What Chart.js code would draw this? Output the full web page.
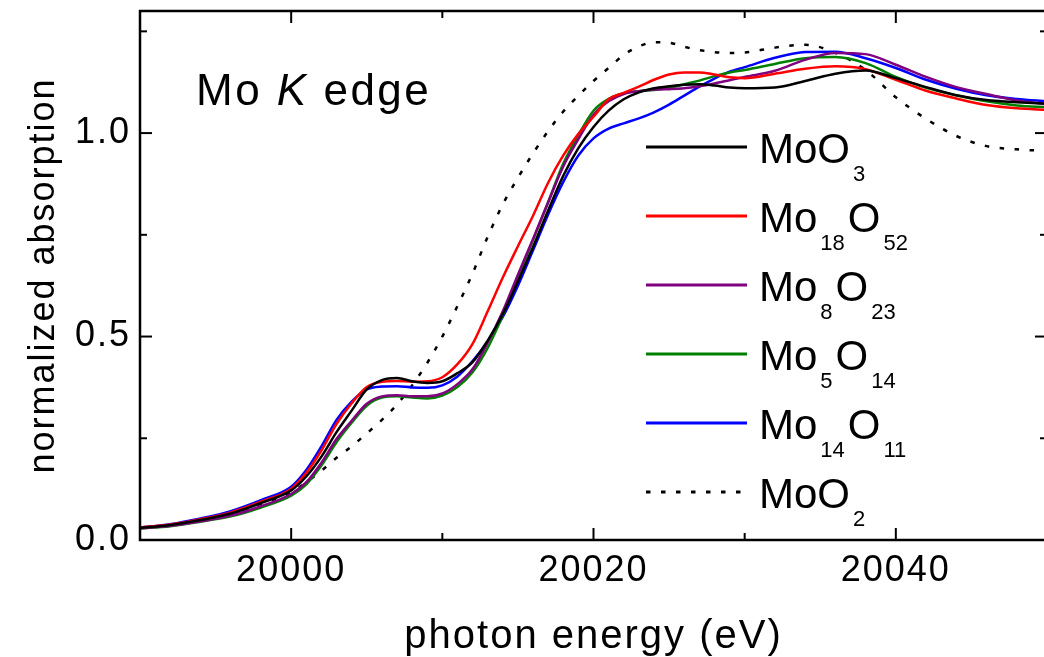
<!DOCTYPE html>
<html>
<head>
<meta charset="utf-8">
<title>Mo K edge XANES</title>
<script src="https://cdn.jsdelivr.net/npm/chart.js@4.4.0/dist/chart.umd.min.js"></script>
<style>
    html, body { margin: 0; padding: 0; background: #fff; overflow: hidden; }
    #wrap { width: 1050px; height: 657px; }
</style>
</head>
<body>
<div id="wrap"><canvas id="xanesChart" width="1050" height="657"></canvas></div>
<script>
// Photon energy grid (eV)
const energy = [
    19990, 19992, 19994, 19996, 19998,
    20000, 20001, 20002, 20003, 20004, 20005, 20006, 20007, 20008, 20009,
    20010, 20011, 20012, 20013, 20014, 20015, 20016, 20017, 20018, 20019,
    20020, 20021, 20022, 20023, 20024, 20025, 20026, 20027, 20028, 20029,
    20030, 20032, 20034, 20036, 20038, 20040, 20042, 20044, 20046, 20048, 20050
];

// Normalized absorption
const moo3 = [
    0.030, 0.037, 0.049, 0.065, 0.091,
    0.122, 0.156, 0.205, 0.265, 0.318, 0.370, 0.393, 0.398, 0.390, 0.386,
    0.390, 0.410, 0.437, 0.490, 0.555, 0.635, 0.720, 0.810, 0.895, 0.963,
    1.015, 1.055, 1.083, 1.100, 1.110, 1.115, 1.119, 1.120, 1.117, 1.112,
    1.110, 1.112, 1.128, 1.146, 1.154, 1.135, 1.113, 1.093, 1.081, 1.076, 1.072
];
const mo18o52 = [
    0.031, 0.038, 0.051, 0.068, 0.094,
    0.126, 0.165, 0.220, 0.285, 0.336, 0.376, 0.389, 0.391, 0.389, 0.390,
    0.400, 0.432, 0.482, 0.562, 0.645, 0.722, 0.797, 0.878, 0.945, 0.998,
    1.040, 1.083, 1.099, 1.114, 1.131, 1.144, 1.149, 1.149, 1.144, 1.137,
    1.135, 1.146, 1.158, 1.164, 1.157, 1.131, 1.104, 1.085, 1.069, 1.061, 1.057
];
const mo8o23 = [
    0.029, 0.035, 0.046, 0.060, 0.083,
    0.113, 0.142, 0.190, 0.248, 0.293, 0.335, 0.353, 0.356, 0.353, 0.353,
    0.360, 0.383, 0.420, 0.485, 0.562, 0.652, 0.740, 0.830, 0.918, 0.985,
    1.045, 1.078, 1.096, 1.103, 1.107, 1.108, 1.110, 1.115, 1.122, 1.130,
    1.138, 1.153, 1.180, 1.197, 1.194, 1.168, 1.138, 1.113, 1.096, 1.080, 1.071
];
const mo5o14 = [
    0.028, 0.034, 0.045, 0.058, 0.080,
    0.109, 0.137, 0.183, 0.240, 0.288, 0.330, 0.350, 0.353, 0.350, 0.348,
    0.355, 0.376, 0.412, 0.472, 0.552, 0.645, 0.737, 0.830, 0.925, 0.995,
    1.055, 1.084, 1.098, 1.103, 1.106, 1.111, 1.120, 1.129, 1.140, 1.149,
    1.155, 1.170, 1.184, 1.187, 1.172, 1.138, 1.111, 1.093, 1.078, 1.068, 1.063
];
const mo14o11 = [
    0.031, 0.039, 0.053, 0.071, 0.098,
    0.131, 0.172, 0.230, 0.295, 0.340, 0.370, 0.377, 0.378, 0.375, 0.374,
    0.380, 0.402, 0.440, 0.488, 0.548, 0.625, 0.712, 0.800, 0.880, 0.945,
    0.987, 1.011, 1.024, 1.036, 1.051, 1.070, 1.092, 1.114, 1.134, 1.151,
    1.162, 1.185, 1.199, 1.200, 1.184, 1.160, 1.131, 1.109, 1.093, 1.084, 1.078
];
const moo2 = [
    0.030, 0.037, 0.049, 0.065, 0.089,
    0.117, 0.142, 0.170, 0.202, 0.230, 0.262, 0.295, 0.333, 0.380, 0.435,
    0.500, 0.575, 0.655, 0.745, 0.825, 0.890, 0.950, 1.005, 1.053, 1.092,
    1.128, 1.160, 1.192, 1.213, 1.223, 1.222, 1.212, 1.204, 1.199, 1.197,
    1.198, 1.210, 1.217, 1.197, 1.155, 1.088, 1.035, 0.993, 0.968, 0.960, 0.956
];

const seriesNames = ['MoO3', 'Mo18O52', 'Mo8O23', 'Mo5O14', 'Mo14O11', 'MoO2'];
const seriesColors = ['#000000', '#ff0000', '#800080', '#008000', '#0000ff', '#000000'];

// Axis ticks
const xMajorTicks = [20000, 20020, 20040];
const xMinorTicks = [20010, 20030];
const yMajorTicks = [0, 0.5, 1.0];
const yMinorTicks = [0.25, 0.75, 1.25];

const FONT = "'Liberation Sans', Arial, sans-serif";

function toPoints(values) {
    return energy.map((e, i) => ({ x: e, y: values[i] }));
}

// no extra label padding, the plot box is fixed
function fixBox(scale) {
    scale.paddingTop = 0;
    scale.paddingBottom = 0;
    scale.paddingLeft = 0;
    scale.paddingRight = 0;
}

// the original figure's lettering is set a little wider
const wideText = {
    id: 'wideText',
    beforeDraw(chart) {
        chart.ctx.letterSpacing = '2px';
    }
};

// Origin-style box with inward ticks on all four sides
const frameTicks = {
    id: 'frameTicks',
    afterDatasetsDraw(chart) {
        const { ctx, chartArea: a, scales: { x, y } } = chart;
        ctx.save();
        ctx.strokeStyle = '#000';
        ctx.lineWidth = 2;
        const tick = (x1, y1, x2, y2) => {
            ctx.beginPath();
            ctx.moveTo(x1, y1);
            ctx.lineTo(x2, y2);
            ctx.stroke();
        };
        xMajorTicks.concat(xMinorTicks).forEach(v => {
            const len = xMajorTicks.includes(v) ? 12 : 7;
            const px = x.getPixelForValue(v);
            tick(px, a.bottom, px, a.bottom - len);
            tick(px, a.top, px, a.top + len);
        });
        yMajorTicks.concat(yMinorTicks).forEach(v => {
            const len = yMajorTicks.includes(v) ? 12 : 7;
            const py = y.getPixelForValue(v);
            tick(a.left, py, a.left + len, py);
            tick(a.right, py, a.right - len, py);
        });
        ctx.lineWidth = 2.5;
        ctx.strokeRect(a.left, a.top, a.right - a.left, a.bottom - a.top);
        ctx.restore();
    }
};

// Legend with chemical subscripts, plus the "Mo K edge" label
const formulaLegend = {
    id: 'formulaLegend',
    afterDraw(chart) {
        const { ctx } = chart;
        ctx.save();
        ctx.textBaseline = 'alphabetic';
        ctx.textAlign = 'left';
        ctx.letterSpacing = '0px';

        chart.data.datasets.forEach((ds, i) => {
            const rowY = 147 + i * 69;
            ctx.strokeStyle = ds.borderColor;
            ctx.lineWidth = 3;
            ctx.setLineDash(ds.borderDash || []);
            ctx.beginPath();
            ctx.moveTo(646, rowY);
            ctx.lineTo(747, rowY);
            ctx.stroke();
            ctx.setLineDash([]);

            let tx = 759;
            const base = rowY + 15.5;
            ds.label.split(/(\d+)/).filter(s => s).forEach(part => {
                ctx.fillStyle = '#000';
                if (/^\d+$/.test(part)) {
                    ctx.font = '22px ' + FONT;
                    tx += 3;
                    ctx.fillText(part, tx, base + 18);
                    tx += ctx.measureText(part).width + 3;
                } else {
                    ctx.font = '42px ' + FONT;
                    ctx.fillText(part, tx, base);
                    tx += ctx.measureText(part).width;
                }
            });
        });

        // edge label
        let lx = 196;
        const ly = 105;
        ctx.fillStyle = '#000';
        ctx.letterSpacing = '2.5px';
        [['Mo ', ''], ['K', 'italic '], [' edge', '']].forEach(([txt, style]) => {
            ctx.font = style + '44px ' + FONT;
            ctx.fillText(txt, lx, ly);
            lx += ctx.measureText(txt).width;
        });
        ctx.restore();
    }
};

const datasets = [moo3, mo18o52, mo8o23, mo5o14, mo14o11, moo2].map((vals, i) => ({
    label: seriesNames[i],
    data: toPoints(vals),
    borderColor: seriesColors[i],
    backgroundColor: seriesColors[i],
    borderWidth: 2.5,
    borderDash: seriesNames[i] === 'MoO2' ? [4.5, 10.5] : [],
    pointRadius: 0,
    cubicInterpolationMode: 'monotone',
    fill: false
}));

new Chart(document.getElementById('xanesChart').getContext('2d'), {
    type: 'line',
    data: { datasets },
    options: {
        responsive: false,
        animation: false,
        devicePixelRatio: 1,
        layout: { padding: { top: 11, right: 3, left: 0, bottom: 0 } },
        plugins: {
            legend: { display: false },
            tooltip: { enabled: false }
        },
        scales: {
            x: {
                type: 'linear',
                min: 19990,
                max: 20050,
                afterBuildTicks: scale => { scale.ticks = xMajorTicks.map(v => ({ value: v })); },
                afterFit: scale => { scale.height = 117; fixBox(scale); },
                grid: { display: false, drawTicks: false },
                border: { display: false },
                ticks: {
                    color: '#000',
                    font: { family: FONT, size: 36 },
                    padding: 9,
                    maxRotation: 0,
                    autoSkip: false,
                    callback: v => String(v)
                },
                title: {
                    display: true,
                    text: 'photon energy (eV)',
                    color: '#000',
                    font: { family: FONT, size: 40 },
                    padding: { top: 0, bottom: -4 }
                }
            },
            y: {
                type: 'linear',
                min: 0,
                max: 1.3,
                afterBuildTicks: scale => { scale.ticks = yMajorTicks.map(v => ({ value: v })); },
                afterFit: scale => { scale.width = 140; fixBox(scale); },
                grid: { display: false, drawTicks: false },
                border: { display: false },
                ticks: {
                    color: '#000',
                    font: { family: FONT, size: 36 },
                    padding: 9,
                    callback: v => v.toFixed(1)
                },
                title: {
                    display: true,
                    text: 'normalized absorption',
                    color: '#000',
                    font: { family: FONT, size: 36 },
                    padding: { top: 22, bottom: 0 }
                }
            }
        }
    },
    plugins: [wideText, frameTicks, formulaLegend]
});
</script>
</body>
</html>
